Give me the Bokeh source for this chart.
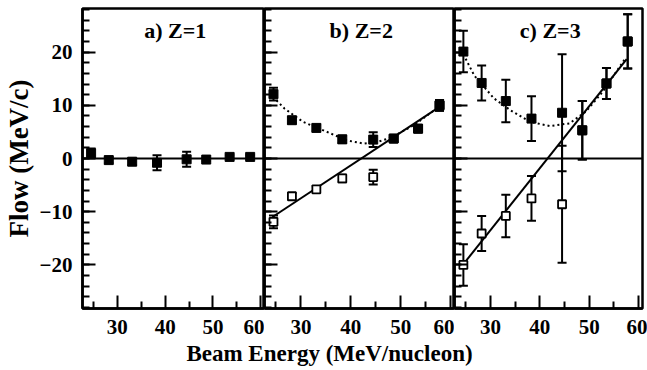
from bokeh.plotting import figure
from bokeh.layouts import row, column
from bokeh.models import (Range1d, FixedTicker, Span, Whisker, TeeHead, ColumnDataSource,
                          Label, CustomJSTickFormatter)
from bokeh.embed import file_html
from bokeh.resources import INLINE

# ---------------- data ----------------
energy = [24.5, 28.2, 33.1, 38.3, 44.5, 48.6, 53.5, 57.8]

z1_flow = [1.0, -0.3, -0.6, -0.8, -0.15, -0.2, 0.3, 0.3]
z1_err = [0.9, 0.6, 0.6, 1.4, 1.4, 0.3, 0.3, 0.3]

z2_abs = [12.1, 7.2, 5.75, 3.6, 3.55, 3.75, 5.6, 10.0]
z2_signed = [-11.9, -7.1, -5.8, -3.75, -3.5, 3.75, 5.6, 10.0]
z2_err = [1.2, 0.6, 0.6, 0.7, 1.4, 0.6, 0.6, 1.0]

z3_abs = [20.1, 14.2, 10.8, 7.5, 8.6, 5.3, 14.1, 22.0]
z3_signed = [-20.0, -14.1, -10.8, -7.5, -8.6, 5.3, 14.1, 22.0]
z3_err = [3.9, 3.3, 4.0, 4.2, 11.0, 5.5, 2.9, 5.1]

z2_fit_x = [24.3, 57.8]
z2_fit_y = [-11.0, 9.7]
z3_fit_x = [24.3, 57.6]
z3_fit_y = [-20.1, 18.7]

z2_curve_x = [24.4, 26.7, 30.4, 34.5, 39.2, 42.6, 45.3, 48.0, 52.7, 57.8]
z2_curve_y = [11.6, 9.4, 6.9, 5.3, 3.4, 2.8, 3.1, 3.9, 6.3, 9.8]
z3_curve_x = [24.5, 26.7, 30.7, 34.0, 38.0, 42.0, 46.0, 49.3, 52.7, 57.3]
z3_curve_y = [19.6, 15.6, 11.3, 9.1, 6.9, 6.1, 6.6, 8.8, 12.5, 18.8]

panel_titles = ["a) Z=1", "b) Z=2", "c) Z=3"]
x_major = [30, 40, 50, 60]
x_minor = [25, 35, 45, 55]
y_major = [-20, -10, 0, 10, 20]
y_minor = list(range(-28, 29, 2))

x_label = "Beam Energy (MeV/nucleon)"
y_label = "Flow (MeV/c)"

FONT = "Liberation Serif"


def make_panel(width, left, right, labels):
    p = figure(width=width, height=339, x_range=Range1d(22.7, 60.8), y_range=Range1d(-28.2, 28.2),
               output_backend="svg", toolbar_location=None,
               min_border_left=left, min_border_right=right, min_border_top=8, min_border_bottom=31)
    p.grid.visible = False
    p.outline_line_color = "black"
    p.outline_line_width = 2.5
    p.outline_line_alpha = 1
    p.background_fill_color = "white"
    p.border_fill_color = "white"

    xa = p.xaxis[0]
    xa.ticker = FixedTicker(ticks=x_major, minor_ticks=x_minor)
    ya = p.yaxis[0]
    ya.ticker = FixedTicker(ticks=y_major, minor_ticks=y_minor)
    for ax in (xa, ya):
        ax.axis_line_width = 2.5
        ax.axis_line_color = "black"
        ax.major_tick_in = 13
        ax.major_tick_out = 0
        ax.minor_tick_in = 7
        ax.minor_tick_out = 0
        ax.major_tick_line_width = 2
        ax.minor_tick_line_width = 2
        ax.major_tick_line_color = "black"
        ax.minor_tick_line_color = "black"
        ax.major_label_text_font = FONT
        ax.major_label_text_font_style = "bold"
        ax.major_label_text_font_size = "21px"
        ax.major_label_text_color = "black"
    xa.major_label_standoff = 11
    if labels:
        ya.major_label_standoff = 10
        ya.axis_label = y_label
        ya.axis_label_text_font = FONT
        ya.axis_label_text_font_style = "bold"
        ya.axis_label_text_font_size = "27px"
        ya.axis_label_text_color = "black"
        ya.axis_label_standoff = 3
    else:
        ya.major_label_standoff = 0
        ya.formatter = CustomJSTickFormatter(code="return ''")
        ya.major_label_text_font_size = "0px"
    p.add_layout(Span(location=0, dimension="width", line_color="black", line_width=2))
    return p


def add_points(p, ys, errs, filled):
    src = ColumnDataSource(dict(x=energy, y=ys,
                                upper=[v + e for v, e in zip(ys, errs)],
                                lower=[v - e for v, e in zip(ys, errs)]))
    w = Whisker(source=src, base="x", upper="upper", lower="lower", line_width=2, line_color="black",
                upper_head=TeeHead(size=9, line_width=2, line_color="black"),
                lower_head=TeeHead(size=9, line_width=2, line_color="black"))
    p.add_layout(w)
    if filled:
        p.scatter("x", "y", source=src, marker="square", size=9, fill_color="black", line_color="black")
    else:
        p.scatter("x", "y", source=src, marker="square", size=8, fill_color="white", line_color="black",
                  line_width=1.8)


def add_title(p, text):
    p.add_layout(Label(x=42.1, y=24.0, text=text, text_align="center", text_baseline="middle",
                       text_font=FONT, text_font_style="bold", text_font_size="22px", text_color="black"))


pa = make_panel(264, 75, 0, True)
pb = make_panel(190, 0, 0, False)
pc = make_panel(193, 0, 5, False)

add_points(pa, z1_flow, z1_err, True)

pb.line(z2_fit_x, z2_fit_y, line_color="black", line_width=2)
pb.line(z2_curve_x, z2_curve_y, line_color="black", line_width=2, line_dash="2 3")
add_points(pb, z2_signed, z2_err, False)
add_points(pb, z2_abs, z2_err, True)

pc.line(z3_fit_x, z3_fit_y, line_color="black", line_width=2)
pc.line(z3_curve_x, z3_curve_y, line_color="black", line_width=2, line_dash="2 3")
add_points(pc, z3_signed, z3_err, False)
add_points(pc, z3_abs, z3_err, True)

for p, t in zip((pa, pb, pc), panel_titles):
    add_title(p, t)

lab = figure(width=647, height=31, x_range=Range1d(0, 647), y_range=Range1d(0, 31),
             output_backend="svg", toolbar_location=None, x_axis_type=None, y_axis_type=None,
             min_border=0)
lab.grid.visible = False
lab.outline_line_color = None
lab.add_layout(Label(x=329, y=17, text=x_label, text_align="center", text_baseline="alphabetic",
                     text_font=FONT, text_font_style="bold", text_font_size="23px", text_color="black"))

layout = column(row(pa, pb, pc), lab)

with open("out.html", "w") as f:
    f.write(file_html(layout, INLINE))
